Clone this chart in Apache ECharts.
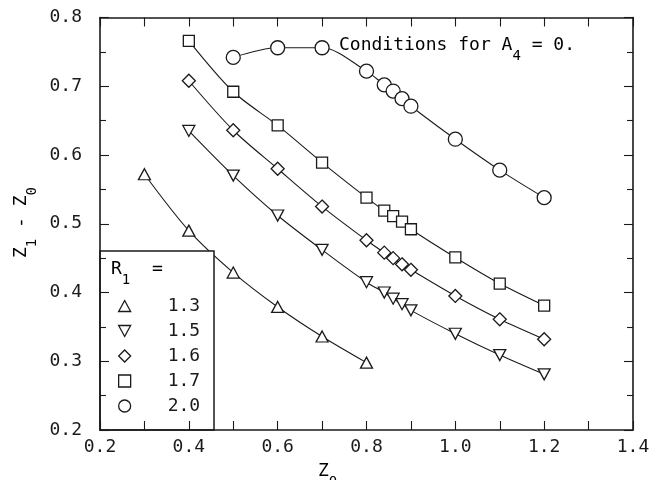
<!DOCTYPE html>
<html>
<head>
<meta charset="utf-8">
<script src="https://cdn.jsdelivr.net/npm/echarts@6/dist/echarts.min.js"></script>
<style>html,body{margin:0;padding:0;background:#fff}#c{width:654px;height:480px}</style>
</head>
<body>
<div id="c"></div>
<script>
// ---- data ----
var xR13 = [0.3, 0.4, 0.5, 0.6, 0.7, 0.8];
var yR13 = [0.572, 0.490, 0.429, 0.379, 0.336, 0.298];
var xR15 = [0.4, 0.5, 0.6, 0.7, 0.8, 0.84, 0.86, 0.88, 0.9, 1.0, 1.1, 1.2];
var yR15 = [0.635, 0.570, 0.512, 0.462, 0.415, 0.400, 0.391, 0.383, 0.374, 0.340, 0.309, 0.281];
var xR16 = [0.4, 0.5, 0.6, 0.7, 0.8, 0.84, 0.86, 0.88, 0.9, 1.0, 1.1, 1.2];
var yR16 = [0.708, 0.636, 0.580, 0.525, 0.476, 0.458, 0.450, 0.441, 0.433, 0.395, 0.361, 0.332];
var xR17 = [0.4, 0.5, 0.6, 0.7, 0.8, 0.84, 0.86, 0.88, 0.9, 1.0, 1.1, 1.2];
var yR17 = [0.766, 0.692, 0.643, 0.589, 0.538, 0.519, 0.511, 0.503, 0.492, 0.451, 0.413, 0.381];
var xR20 = [0.5, 0.6, 0.7, 0.8, 0.84, 0.86, 0.88, 0.9, 1.0, 1.1, 1.2];
var yR20 = [0.742, 0.756, 0.756, 0.722, 0.702, 0.693, 0.682, 0.671, 0.623, 0.578, 0.538];
var seriesNames = ['1.3', '1.5', '1.6', '1.7', '2.0'];

function pairs(xs, ys) { return xs.map(function (x, i) { return [x, ys[i]]; }); }

var FONT = 'DejaVu Sans Mono';
var INK = '#1a1a1a';
var UP = 'path://M6,0L12,11L0,11Z';
var DOWN = 'path://M0,0L12,0L6,11Z';
var symbols = [UP, DOWN, 'diamond', 'rect', 'circle'];
var sizes = [[12, 11], [12, 11], 13, 11, 14];
var data = [pairs(xR13, yR13), pairs(xR15, yR15), pairs(xR16, yR16), pairs(xR17, yR17), pairs(xR20, yR20)];

var series = seriesNames.map(function (n, i) {
  return {
    name: n, type: 'line', data: data[i], smooth: 0.3, z: 2,
    symbol: symbols[i], symbolSize: sizes[i], showAllSymbol: true,
    lineStyle: { color: INK, width: 1.1 },
    itemStyle: { color: '#fff', borderColor: INK, borderWidth: 1.3 },
    emphasis: { disabled: true }, animation: false
  };
});

function xAx(pos, labels) {
  return {
    type: 'value', position: pos, min: 0.2, max: 1.4, interval: 0.2, z: 15,
    axisLine: { show: true, lineStyle: { color: INK, width: 1.6 } },
    axisTick: { show: true, inside: true, length: 9, lineStyle: { color: INK, width: 1.1 } },
    minorTick: { show: true, splitNumber: 2, length: 9, lineStyle: { color: INK, width: 1.1 } },
    splitLine: { show: false },
    axisLabel: { show: labels, margin: 8, fontFamily: FONT, fontSize: 18, color: INK,
      formatter: function (v) { return v.toFixed(1); } }
  };
}
function yAx(pos, labels) {
  return {
    type: 'value', position: pos, min: 0.2, max: 0.8, interval: 0.1, z: 15,
    axisLine: { show: true, lineStyle: { color: INK, width: 1.6 } },
    axisTick: { show: true, inside: true, length: 9, lineStyle: { color: INK, width: 1.1 } },
    minorTick: { show: true, splitNumber: 2, length: 6, lineStyle: { color: INK, width: 1.1 } },
    splitLine: { show: false },
    axisLabel: { show: labels, margin: 18, fontFamily: FONT, fontSize: 18, color: INK,
      formatter: function (v) { return v.toFixed(1); } }
  };
}

var sub = { fontFamily: FONT, fontSize: 14, color: INK, verticalAlign: 'bottom', lineHeight: 27 };
var main = { fontFamily: FONT, fontSize: 18, color: INK, verticalAlign: 'top', lineHeight: 20 };

var chart = echarts.init(document.getElementById('c'), null, { renderer: 'canvas' });
chart.setOption({
  animation: false,
  backgroundColor: '#fff',
  grid: { left: 100, right: 21, top: 17.5, bottom: 50 },
  xAxis: [xAx('bottom', true), xAx('top', false)],
  yAxis: [yAx('left', true), yAx('right', false)],
  legend: {
    orient: 'vertical', left: 113, top: 292, z: 20,
    itemWidth: 12, itemHeight: 12, itemGap: 7,
    data: seriesNames.map(function (n, i) { return { name: n, icon: symbols[i] }; }),
    itemStyle: { color: '#fff', borderColor: INK, borderWidth: 1.3 },
    textStyle: { fontFamily: FONT, fontSize: 18, color: INK, lineHeight: 18, padding: [0, 0, 0, 32] },
    selectedMode: false
  },
  graphic: [
    { type: 'rect', z: 10, shape: { x: 100, y: 251, width: 114, height: 179 },
      style: { fill: '#fff', stroke: INK, lineWidth: 1.5 } },
    { type: 'text', z: 20, x: 111, y: 260,
      style: { text: '{m|R}{s|1}{m|  =}', rich: { m: main, s: sub } } },
    { type: 'text', z: 20, x: 339, y: 36,
      style: { text: '{m|Conditions for A}{s|4}{m| = 0.}', rich: { m: main, s: sub } } },
    { type: 'text', z: 20, x: 318, y: 462,
      style: { text: '{m|Z}{s|0}', rich: { m: main, s: sub } } },
    { type: 'text', z: 20, x: 12, y: 258, rotation: Math.PI / 2,
      style: { text: '{m|Z}{s|1}{m| - Z}{s|0}', rich: { m: main, s: sub } } }
  ],
  series: series
});
</script>
</body>
</html>
